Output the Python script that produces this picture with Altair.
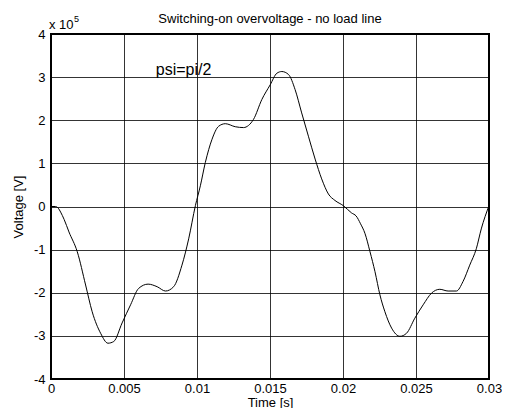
import altair as alt
import pandas as pd

# time [s]
t = [0.0, 0.0003, 0.0005, 0.00066, 0.0009, 0.00123, 0.0018, 0.00237, 0.00282, 0.0034,
     0.0039, 0.0043, 0.00487, 0.00545, 0.006, 0.00665, 0.00727, 0.00784, 0.0084, 0.00897,
     0.00943, 0.00989, 0.01023, 0.01057, 0.01103, 0.01148, 0.01194, 0.01262, 0.01319, 0.01353,
     0.01387, 0.01444, 0.01501, 0.01547, 0.01581, 0.01627, 0.01672, 0.01717, 0.01763, 0.01809,
     0.01854, 0.019, 0.01945, 0.02002, 0.02059, 0.0209, 0.0212, 0.0215, 0.02185, 0.02219,
     0.02253, 0.02287, 0.02333, 0.0239, 0.02435, 0.02492, 0.02549, 0.02606, 0.02663, 0.0272,
     0.02777, 0.02822, 0.02868, 0.02913, 0.02947, 0.03]
# voltage [x 1e5 V]
v = [0.0, 0.0, -0.04, -0.13, -0.30, -0.59, -1.05, -1.82, -2.44, -2.94,
     -3.17, -3.13, -2.70, -2.28, -1.90, -1.80, -1.86, -1.96, -1.86, -1.36,
     -0.75, 0.02, 0.48, 1.02, 1.56, 1.86, 1.92, 1.85, 1.83, 1.88,
     2.02, 2.48, 2.82, 3.09, 3.13, 3.06, 2.71, 2.17, 1.63, 1.10,
     0.64, 0.29, 0.14, 0.02, -0.15, -0.22, -0.40, -0.62, -1.05, -1.51,
     -2.05, -2.44, -2.82, -3.01, -2.94, -2.59, -2.28, -2.01, -1.92, -1.96,
     -1.96, -1.74, -1.36, -0.98, -0.52, 0.02]

x_ticks = [0, 0.005, 0.01, 0.015, 0.02, 0.025, 0.03]
y_ticks = [-4, -3, -2, -1, 0, 1, 2, 3, 4]

title = "Switching-on overvoltage - no load line"
annotation = "psi=pi/2"
multiplier = "x 10"
exponent = "5"

df = pd.DataFrame({"t": t, "v": v})
FONT = "Liberation Sans"

xscale = alt.Scale(domain=[0, 0.03], nice=False, zero=False)
yscale = alt.Scale(domain=[-4, 4], nice=False, zero=False)

xaxis = alt.Axis(values=x_ticks, title="Time [s]", grid=True, ticks=False, tickSize=0,
                 domain=False, labelFlush=False, labelOverlap=False,
                 labelExpr="'' + datum.value", labelPadding=3,
                 titleY=27, titleBaseline="alphabetic")
yaxis = alt.Axis(values=y_ticks, title="Voltage [V]", grid=True, ticks=False, tickSize=0,
                 domain=False, labelFlush=False, labelOverlap=False,
                 labelExpr="'' + datum.value", labelPadding=6, titlePadding=8)

line = alt.Chart(df).mark_line(color="black", strokeWidth=1, interpolate="monotone").encode(
    x=alt.X("t:Q", scale=xscale, axis=xaxis),
    y=alt.Y("v:Q", scale=yscale, axis=yaxis),
)

ttl = alt.Chart().mark_text(text=title, font=FONT, fontSize=13, align="center",
                            baseline="alphabetic", color="black", dy=-11).encode(
    x=alt.datum(0.015), y=alt.datum(4.0))

psi = alt.Chart().mark_text(text=annotation, font=FONT, fontSize=16, align="left",
                            baseline="alphabetic", color="black").encode(
    x=alt.datum(0.00718), y=alt.datum(3.05))

mult = alt.Chart().mark_text(text=multiplier, font=FONT, fontSize=13, align="left",
                             baseline="alphabetic", color="black", dx=-2, dy=-5).encode(
    x=alt.datum(0.0), y=alt.datum(4.0))

expo = alt.Chart().mark_text(text=exponent, font=FONT, fontSize=9, align="left",
                             baseline="alphabetic", color="black", dx=23, dy=-12).encode(
    x=alt.datum(0.0), y=alt.datum(4.0))

chart = alt.layer(line, ttl, psi, mult, expo).properties(
    width=438, height=345,
    background="white",
    autosize=alt.AutoSizeParams(type="none"),
    padding={"left": 43, "top": 26, "right": 13, "bottom": 29},
).configure_view(
    stroke="black", strokeWidth=2
).configure_axis(
    gridColor="black", gridOpacity=1, gridWidth=0.8,
    labelFont=FONT, labelFontSize=13, labelColor="black",
    titleFont=FONT, titleFontSize=13, titleFontWeight="normal", titleColor="black",
)

chart.save("out.html", embed_options={"renderer": "svg", "actions": False})
